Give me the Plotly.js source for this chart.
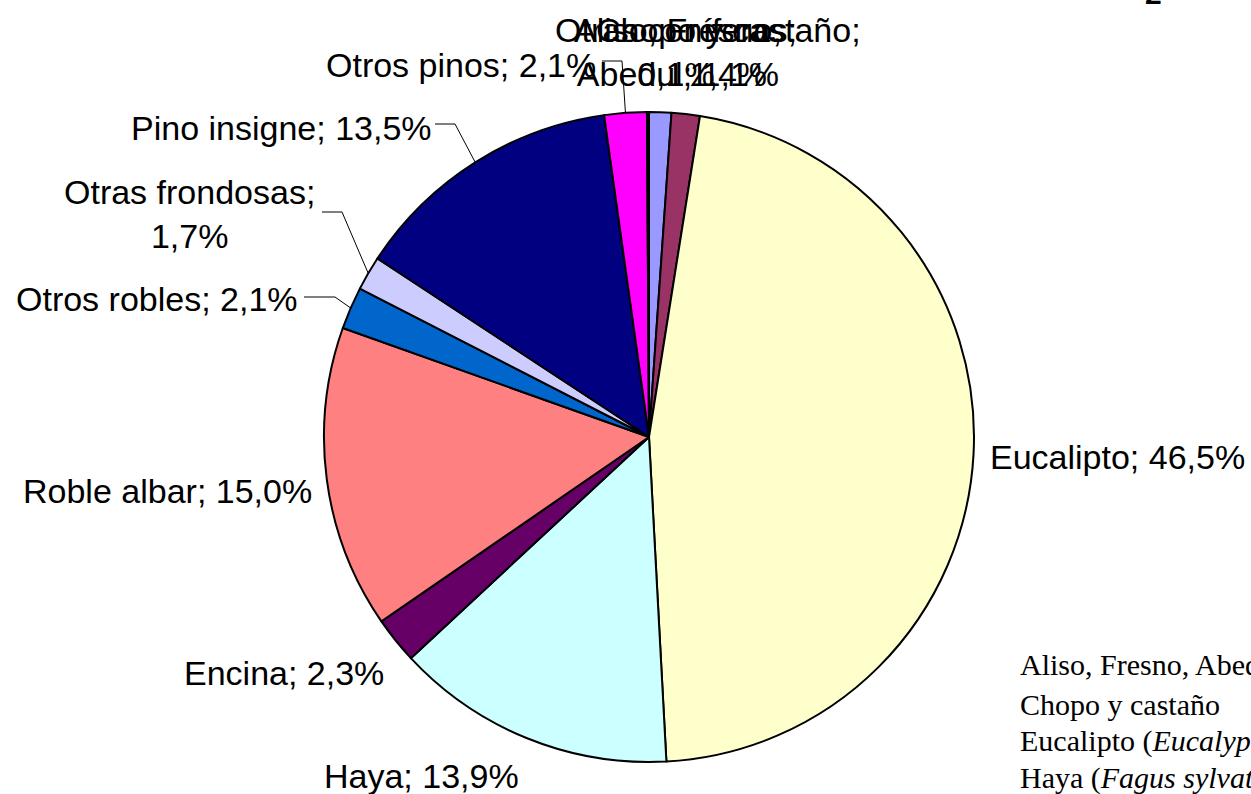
<!DOCTYPE html>
<html>
<head>
<meta charset="utf-8">
<script src="https://cdn.plot.ly/plotly-3.0.1.min.js"></script>
<style>
html,body{margin:0;padding:0;background:#fff;overflow:hidden;}
#chart{width:1251px;height:794px;}
</style>
</head>
<body>
<div id="chart"></div>
<script>
// ---- data ----
var categories = ["Aliso, Fresno, Abedul", "Chopo y castaño", "Eucalipto", "Haya", "Encina",
  "Roble albar", "Otros robles", "Otras frondosas", "Pino insigne", "Otros pinos", "Otras coníferas"];
var values = [1.1, 1.4, 46.5, 13.9, 2.3, 15.0, 2.1, 1.7, 13.5, 2.1, 0.1];
var pctLabels = ["1,1%", "1,4%", "46,5%", "13,9%", "2,3%", "15,0%", "2,1%", "1,7%", "13,5%", "2,1%", "0,1%"];
var labelText = ["Aliso, Fresno,<br>Abedul; 1,1%", "Chopo y castaño;<br>1,4%", "Eucalipto; 46,5%",
  "Haya; 13,9%", "Encina; 2,3%", "Roble albar; 15,0%", "Otros robles; 2,1%",
  "Otras frondosas;<br>1,7%", "Pino insigne; 13,5%", "Otros pinos; 2,1%", "Otras coníferas;<br>0,1%"];
var legendLines = ["Aliso, Fresno, Abedul (<i>Alnus glutinosa, Fraxinus excelsior, Betula</i>)",
  "Chopo y castaño", "Eucalipto (<i>Eucalyptus globulus</i>)", "Haya (<i>Fagus sylvatica</i>)"];

// ---- styles / layout ----
var colors = ["#9999FF", "#993366", "#FFFFCC", "#CCFFFF", "#660066", "#FF8080",
  "#0066CC", "#CCCCFF", "#000080", "#FF00FF", "#FFFF00"];
var W = 1251, H = 794;
var CX = 649, CY = 437, R = 325;
function px(x){return x / W;}
function py(y){return 1 - y / H;}

// label placement (pixel centres) per category
var labelPos = [
  {x:678, y:52, a:"center"}, {x:728, y:52, a:"center"}, {x:988, y:457, a:"left"},
  {x:421, y:776, a:"center"}, {x:284, y:673, a:"center"}, {x:167, y:491, a:"center"},
  {x:157, y:299, a:"center"}, {x:189, y:214, a:"center"}, {x:281, y:128, a:"center"},
  {x:461, y:65, a:"center"}, {x:676, y:52, a:"center"}
];
// leader lines: category index, start point and elbow x (pixels)
var leaders = [
  {i:6, x0:304, y0:297, xe:335},
  {i:7, x0:322, y0:212, xe:342},
  {i:8, x0:435, y0:124, xe:455},
  {i:9, x0:602, y0:61, xe:622}
];

var total = values.reduce(function(a,b){return a+b;}, 0);
function midPoint(i){
  var cum = 0;
  for (var k = 0; k < i; k++) cum += values[k];
  var th = 2 * Math.PI * (cum + values[i] / 2) / total;
  return {x: CX + R * Math.sin(th), y: CY - R * Math.cos(th)};
}

var trace = {
  type: "pie",
  labels: categories,
  values: values,
  text: pctLabels,
  sort: false,
  direction: "clockwise",
  rotation: 0,
  textinfo: "none",
  hoverinfo: "skip",
  marker: {colors: colors, line: {color: "#000000", width: 2}},
  domain: {x: [px(CX - R), px(CX + R)], y: [py(CY + R), py(CY - R)]},
  showlegend: false
};

var annotations = [];
var font = {family: "Liberation Sans, Arial, sans-serif", size: 34, color: "#000"};
for (var i = 0; i < categories.length; i++) {
  var p = labelPos[i];
  annotations.push({
    xref: "paper", yref: "paper", x: px(p.x), y: py(p.y),
    xanchor: p.a, yanchor: "middle", align: "center",
    text: labelText[i], showarrow: false, font: font
  });
}
var legY = [665, 704, 741, 778];
for (var j = 0; j < legendLines.length; j++) {
  annotations.push({
    xref: "paper", yref: "paper", x: px(1018), y: py(legY[j]),
    xanchor: "left", yanchor: "middle", align: "left",
    text: legendLines[j], showarrow: false,
    font: {family: "Liberation Serif, Times New Roman, serif", size: 30, color: "#000"}
  });
}
annotations.push({
  xref: "paper", yref: "paper", x: px(1153), y: py(-6),
  xanchor: "center", yanchor: "middle", text: "<b>2</b>", showarrow: false,
  font: {family: "Liberation Sans, Arial, sans-serif", size: 30, color: "#000"}
});

var shapes = [];
leaders.forEach(function(l){
  var m = midPoint(l.i);
  shapes.push({type: "path", xref: "paper", yref: "paper",
    path: "M " + px(l.x0) + " " + py(l.y0) + " L " + px(l.xe) + " " + py(l.y0) + " L " + px(m.x) + " " + py(m.y),
    line: {color: "#000", width: 1}});
});

var layout = {
  width: W, height: H,
  margin: {l: 0, r: 0, t: 0, b: 0},
  paper_bgcolor: "#ffffff",
  plot_bgcolor: "#ffffff",
  showlegend: false,
  annotations: annotations,
  shapes: shapes
};

Plotly.newPlot("chart", [trace], layout, {displayModeBar: false, staticPlot: true});
</script>
</body>
</html>
